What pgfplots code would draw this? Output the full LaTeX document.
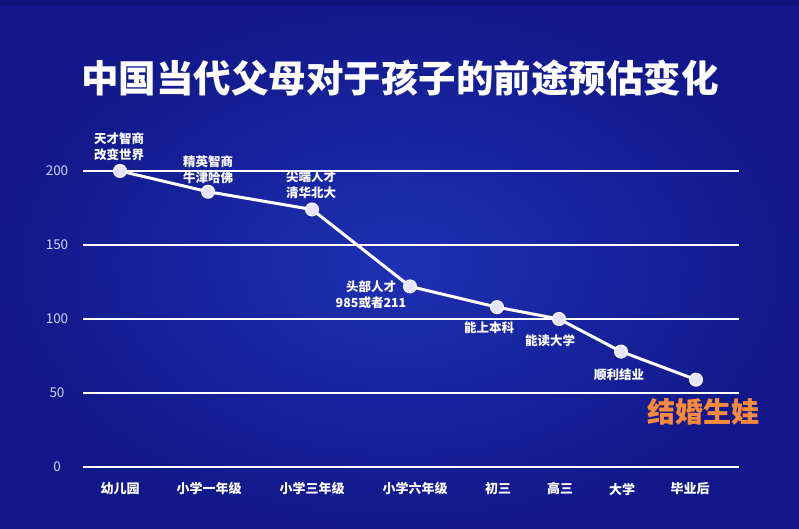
\documentclass[border=0pt]{standalone}
\usepackage{pgfplots}
\pgfplotsset{compat=1.18}
\usepackage{fontspec}
\setmainfont{Noto Sans CJK SC}
\definecolor{bgin}{RGB}{30,48,178}
\definecolor{bgout}{RGB}{18,24,138}
\definecolor{ticklab}{RGB}{205,215,250}
\definecolor{orangetxt}{RGB}{246,138,62}
\definecolor{glow}{RGB}{200,60,40}
\begin{document}
\begin{tikzpicture}[x=1pt,y=1pt]
\useasboundingbox (0,0) rectangle (799,529);
\shade[inner color=bgin, outer color=bgout] (0,0) rectangle (799,529);
\fill[bgout!80!black, opacity=0.5] (0,523) rectangle (799,529);
\node[text=white, font=\bfseries\fontsize{37.5}{40}\selectfont] at (400,451) {中国当代父母对于孩子的前途预估变化};
\begin{axis}[
  at={(83pt,62pt)}, anchor=south west, scale only axis,
  width=656pt, height=296pt,
  xmin=83, xmax=739, ymin=0, ymax=200, clip=false,
  axis line style={draw=none}, major tick length=0pt,
  ytick={0,50,100,150,200},
  ymajorgrids, major grid style={white, line width=1.6pt},
  xtick={120,209,312,415,498,560,622,690},
  xticklabels={幼儿园,小学一年级,小学三年级,小学六年级,初三,高三,大学,毕业后},
  xticklabel style={anchor=center, yshift=-22pt, text=white, font=\bfseries\fontsize{13}{15}\selectfont},
  yticklabel style={anchor=center, xshift=-26pt, text=ticklab, font=\fontsize{13.5}{15}\selectfont},
  /pgf/number format/assume math mode=true,
]
\addplot[white, line width=3pt, mark=*, mark size=6.5pt,
  mark options={fill=white!90!blue, draw=white, line width=1pt}]
  coordinates {(120,200)(208,186)(312,174)(410,122)(497,108)(559,100)(621,78)(696,59)};
\begin{scope}[every node/.style={align=center, text=white, font=\bfseries\fontsize{12.5}{16}\selectfont}]
\node at (axis cs:119,216.2) {天才智商\\改变世界};
\node at (axis cs:208,200.7) {精英智商\\牛津哈佛};
\node at (axis cs:311,190.5) {尖端人才\\清华北大};
\node at (axis cs:371,116.2) {头部人才\\985或者211};
\node at (axis cs:489,94.0) {能上本科};
\node at (axis cs:550,85.1) {能读大学};
\node at (axis cs:619,62.2) {顺利结业};
\end{scope}
\node[text=glow, opacity=0.6, font=\bfseries\fontsize{28}{30}\selectfont] at (axis cs:703.6,37.0) {结婚生娃};
\node[text=orangetxt, font=\bfseries\fontsize{28}{30}\selectfont] at (axis cs:703,37.5) {结婚生娃};
\end{axis}
\end{tikzpicture}
\end{document}
